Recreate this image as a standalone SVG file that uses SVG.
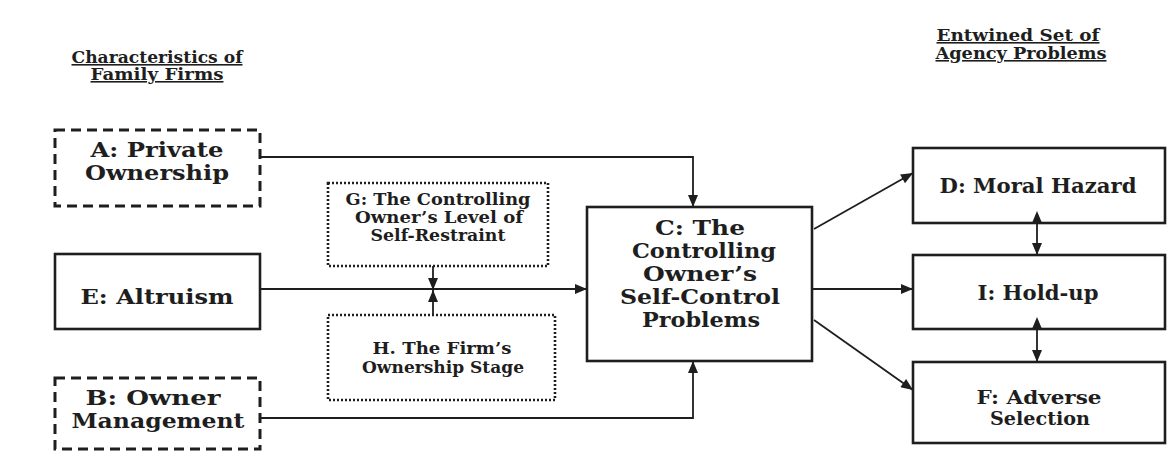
<svg xmlns="http://www.w3.org/2000/svg" width="1169" height="452" viewBox="0 0 1169 452">
<defs>
<style>
.t{font-family:"DejaVu Serif","Liberation Serif",serif;font-weight:bold;fill:#1e1e1e;text-anchor:middle}
.big{font-size:20.5px}
.sm{font-size:19px}
.mid{font-size:16.5px}
.hd{font-size:16px;text-decoration:underline}
.box{fill:none;stroke:#1e1e1e;stroke-width:2.6}
.dash{fill:none;stroke:#1e1e1e;stroke-width:3;stroke-dasharray:10 6}
.dot{fill:none;stroke:#1e1e1e;stroke-width:2.6;stroke-dasharray:2 2}
.ln{fill:none;stroke:#1e1e1e;stroke-width:1.8}
</style>
<marker id="ah" viewBox="0 0 12 10" refX="12" refY="5" markerWidth="13" markerHeight="10" markerUnits="userSpaceOnUse" orient="auto">
<path d="M0,0 L12,5 L0,10 Z" fill="#1e1e1e"/>
</marker>
<marker id="ahs" viewBox="0 0 12 10" refX="0" refY="5" markerWidth="13" markerHeight="10" markerUnits="userSpaceOnUse" orient="auto-start-reverse">
<path d="M0,0 L12,5 L0,10 Z" fill="#1e1e1e"/>
</marker>
</defs>
<rect width="1169" height="452" fill="#ffffff"/>

<g id="heading-left">
<text class="t hd" x="157" y="63" textLength="171" lengthAdjust="spacingAndGlyphs">Characteristics of</text>
<text class="t hd" x="157" y="80" textLength="133" lengthAdjust="spacingAndGlyphs">Family Firms</text>
</g>
<g id="heading-right">
<text class="t hd" x="1018" y="41" textLength="163" lengthAdjust="spacingAndGlyphs">Entwined Set of</text>
<text class="t hd" x="1021" y="59" textLength="171" lengthAdjust="spacingAndGlyphs">Agency Problems</text>
</g>

<g id="connectors">
<path class="ln" d="M260,157 H693 V207" marker-end="url(#ah)"/>
<path class="ln" d="M260,418 H693 V361" marker-end="url(#ah)"/>
<path class="ln" d="M260,289 H587" marker-end="url(#ah)"/>
<path class="ln" d="M433,266 V290" marker-end="url(#ah)"/>
<path class="ln" d="M433,315 V290" marker-end="url(#ah)"/>
<path class="ln" d="M814,229 L913,173" marker-end="url(#ah)"/>
<path class="ln" d="M812,289 H913" marker-end="url(#ah)"/>
<path class="ln" d="M814,320 L913,390" marker-end="url(#ah)"/>
<path class="ln" d="M1037,223 V255" marker-start="url(#ahs)" marker-end="url(#ah)"/>
<path class="ln" d="M1037,329 V362" marker-start="url(#ahs)" marker-end="url(#ah)"/>
</g>

<g id="node-A">
<rect class="dash" x="55" y="130" width="205" height="76"/>
<text class="t big" x="157" y="157" textLength="133" lengthAdjust="spacingAndGlyphs">A: Private</text>
<text class="t big" x="157" y="180" textLength="144" lengthAdjust="spacingAndGlyphs">Ownership</text>
</g>
<g id="node-E">
<rect class="box" x="55" y="254" width="205" height="75"/>
<text class="t big" x="157" y="304" textLength="153" lengthAdjust="spacingAndGlyphs">E: Altruism</text>
</g>
<g id="node-B">
<rect class="dash" x="55" y="378" width="205" height="71"/>
<text class="t big" x="153" y="405" textLength="135" lengthAdjust="spacingAndGlyphs">B: Owner</text>
<text class="t big" x="158" y="428" textLength="173" lengthAdjust="spacingAndGlyphs">Management</text>
</g>
<g id="node-G">
<rect class="dot" x="328" y="183" width="220" height="83"/>
<text class="t mid" x="438" y="205" textLength="185" lengthAdjust="spacingAndGlyphs">G: The Controlling</text>
<text class="t mid" x="439" y="223" textLength="168" lengthAdjust="spacingAndGlyphs">Owner’s Level of</text>
<text class="t mid" x="438" y="241" textLength="135" lengthAdjust="spacingAndGlyphs">Self-Restraint</text>
</g>
<g id="node-H">
<rect class="dot" x="328" y="315" width="227" height="85"/>
<text class="t mid" x="442" y="354" textLength="139" lengthAdjust="spacingAndGlyphs">H. The Firm’s</text>
<text class="t mid" x="443" y="373" textLength="162" lengthAdjust="spacingAndGlyphs">Ownership Stage</text>
</g>
<g id="node-C">
<rect class="box" x="587" y="207" width="225" height="154"/>
<text class="t big" x="700" y="235" textLength="90" lengthAdjust="spacingAndGlyphs">C: The</text>
<text class="t big" x="704" y="258" textLength="144" lengthAdjust="spacingAndGlyphs">Controlling</text>
<text class="t big" x="700" y="281" textLength="114" lengthAdjust="spacingAndGlyphs">Owner’s</text>
<text class="t big" x="700" y="304" textLength="160" lengthAdjust="spacingAndGlyphs">Self-Control</text>
<text class="t big" x="701" y="327" textLength="118" lengthAdjust="spacingAndGlyphs">Problems</text>
</g>
<g id="node-D">
<rect class="box" x="913" y="148" width="252" height="75"/>
<text class="t big" x="1038" y="193" textLength="197" lengthAdjust="spacingAndGlyphs">D: Moral Hazard</text>
</g>
<g id="node-I">
<rect class="box" x="913" y="255" width="252" height="74"/>
<text class="t big" x="1038" y="300" textLength="121" lengthAdjust="spacingAndGlyphs">I: Hold-up</text>
</g>
<g id="node-F">
<rect class="box" x="913" y="362" width="252" height="81"/>
<text class="t sm" x="1039" y="404" textLength="125" lengthAdjust="spacingAndGlyphs">F: Adverse</text>
<text class="t sm" x="1040" y="425" textLength="100" lengthAdjust="spacingAndGlyphs">Selection</text>
</g>
</svg>
